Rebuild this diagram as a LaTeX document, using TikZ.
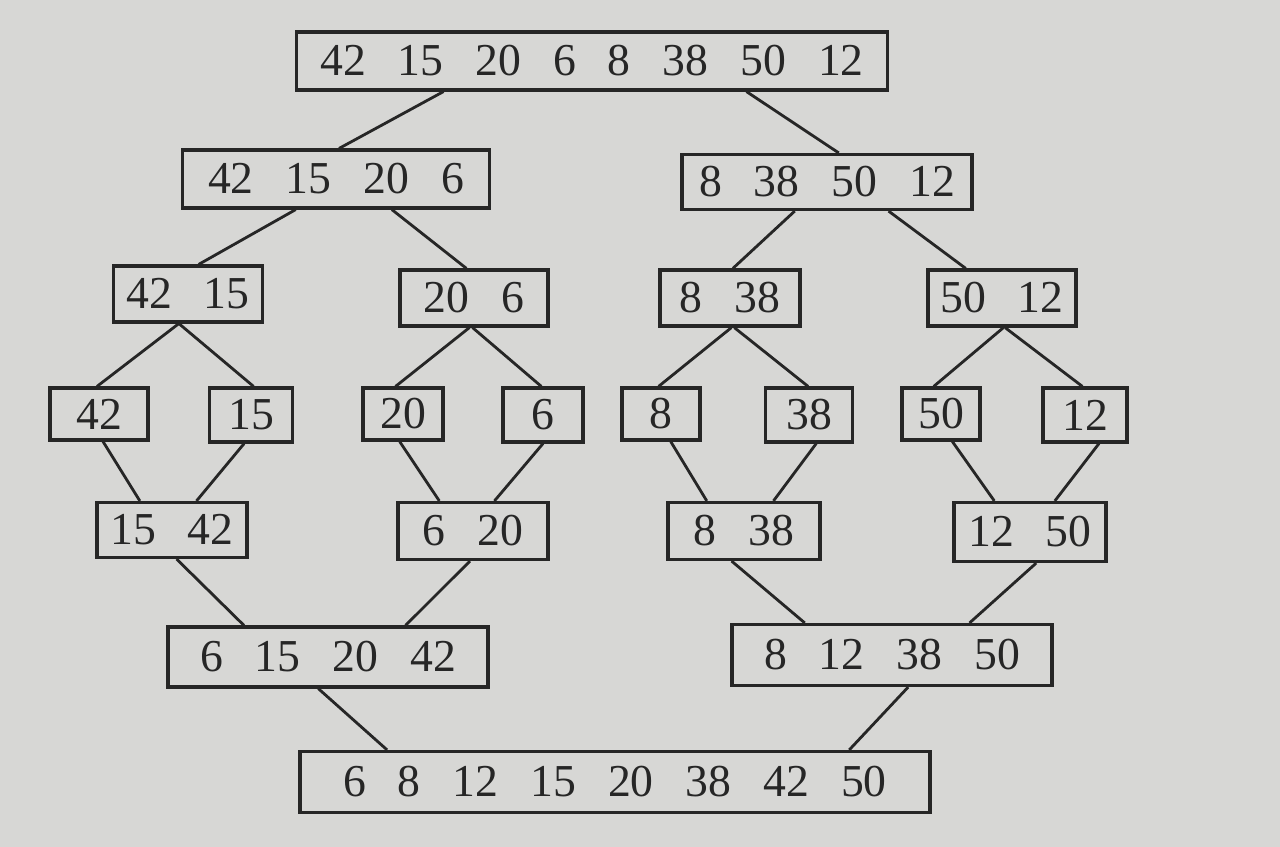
\documentclass[tikz,border=0pt]{standalone}
\usepackage{fontspec}
\setmainfont{Liberation Serif}
\usetikzlibrary{calc}
\definecolor{paper}{HTML}{D7D7D5}
\definecolor{ink}{HTML}{262626}
\newcommand{\ngap}{\hspace{0.7em}}
\tikzset{
    cell/.style={draw=ink, line width=1.8pt, text=ink, inner sep=0pt, minimum height=1.12cm, font=\fontsize{26}{30}\selectfont},
    link/.style={draw=ink, line width=1.6pt}
}

\begin{document}
\begin{tikzpicture}[x=0.02cm, y=-0.02cm]
    % Paper
    \fill[paper] (0,0) rectangle (1280,847);

    % === SPLIT ===
    \node[cell, minimum width=11.82cm, minimum height=1.16cm] (all) at (592,61) {42\ngap 15\ngap 20\ngap 6\ngap 8\ngap 38\ngap 50\ngap 12};

    \node[cell, minimum width=6.14cm, minimum height=1.16cm] (l) at (336,179) {42\ngap 15\ngap 20\ngap 6};
    \node[cell, minimum width=5.8cm, minimum height=1.1cm] (r) at (827,182) {8\ngap 38\ngap 50\ngap 12};

    \node[cell, minimum width=2.98cm] (ll) at (188,294) {42\ngap 15};
    \node[cell, minimum width=2.96cm] (lr) at (474,298) {20\ngap 6};
    \node[cell, minimum width=2.8cm] (rl) at (730,298) {8\ngap 38};
    \node[cell, minimum width=2.96cm] (rr) at (1002,298) {50\ngap 12};

    % single values
    \node[cell, minimum width=1.96cm, minimum height=1.04cm] (lll) at (99,414) {42};
    \node[cell, minimum width=1.66cm, minimum height=1.08cm] (llr) at (251,415) {15};
    \node[cell, minimum width=1.6cm, minimum height=1.04cm] (lrl) at (403,414) {20};
    \node[cell, minimum width=1.6cm, minimum height=1.08cm] (lrr) at (543,415) {6};
    \node[cell, minimum width=1.56cm, minimum height=1.04cm] (rll) at (661,414) {8};
    \node[cell, minimum width=1.74cm, minimum height=1.08cm] (rlr) at (809,415) {38};
    \node[cell, minimum width=1.56cm, minimum height=1.04cm] (rrl) at (941,414) {50};
    \node[cell, minimum width=1.68cm, minimum height=1.08cm] (rrr) at (1085,415) {12};

    % === MERGE ===
    \node[cell, minimum width=3.0cm, minimum height=1.1cm] (mll) at (172,530) {15\ngap 42};
    \node[cell, minimum width=3.0cm, minimum height=1.14cm] (mlr) at (473,531) {6\ngap 20};
    \node[cell, minimum width=3.04cm, minimum height=1.14cm] (mrl) at (744,531) {8\ngap 38};
    \node[cell, minimum width=3.04cm, minimum height=1.18cm] (mrr) at (1030,532) {12\ngap 50};

    \node[cell, minimum width=6.4cm, minimum height=1.2cm] (ml) at (328,657) {6\ngap 15\ngap 20\ngap 42};
    \node[cell, minimum width=6.4cm, minimum height=1.22cm] (mr) at (892,655) {8\ngap 12\ngap 38\ngap 50};

    \node[cell, minimum width=12.6cm, minimum height=1.22cm] (sorted) at (615,782) {6\ngap 8\ngap 12\ngap 15\ngap 20\ngap 38\ngap 42\ngap 50};

    % Connectors (upper node, place on its bottom edge, lower node, place on its top edge)
    \foreach \src/\sx/\dst/\dx in {all/.25/l/.51, all/.76/r/.54,
        l/.37/ll/.57, l/.68/lr/.45, r/.39/rl/.52, r/.71/rr/.26,
        ll/.44/lll/.48, ll/.44/llr/.53, lr/.47/lrl/.41, lr/.49/lrr/.48,
        rl/.51/rll/.47, rl/.53/rlr/.49, rr/.51/rrl/.41, rr/.52/rrr/.47,
        lll/.54/mll/.29, llr/.42/mll/.66, lrl/.46/mlr/.28, lrr/.5/mlr/.64,
        rll/.62/mrl/.26, rlr/.58/mrl/.69, rrl/.64/mrr/.27, rrr/.66/mrr/.66,
        mll/.53/ml/.24, mlr/.48/ml/.74, mrl/.42/mr/.23, mrr/.54/mr/.74,
        ml/.47/sorted/.14, mr/.55/sorted/.87} {
        \draw[link] ($(\src.south west)!\sx!(\src.south east)$) -- ($(\dst.north west)!\dx!(\dst.north east)$);
    }
\end{tikzpicture}
\end{document}
